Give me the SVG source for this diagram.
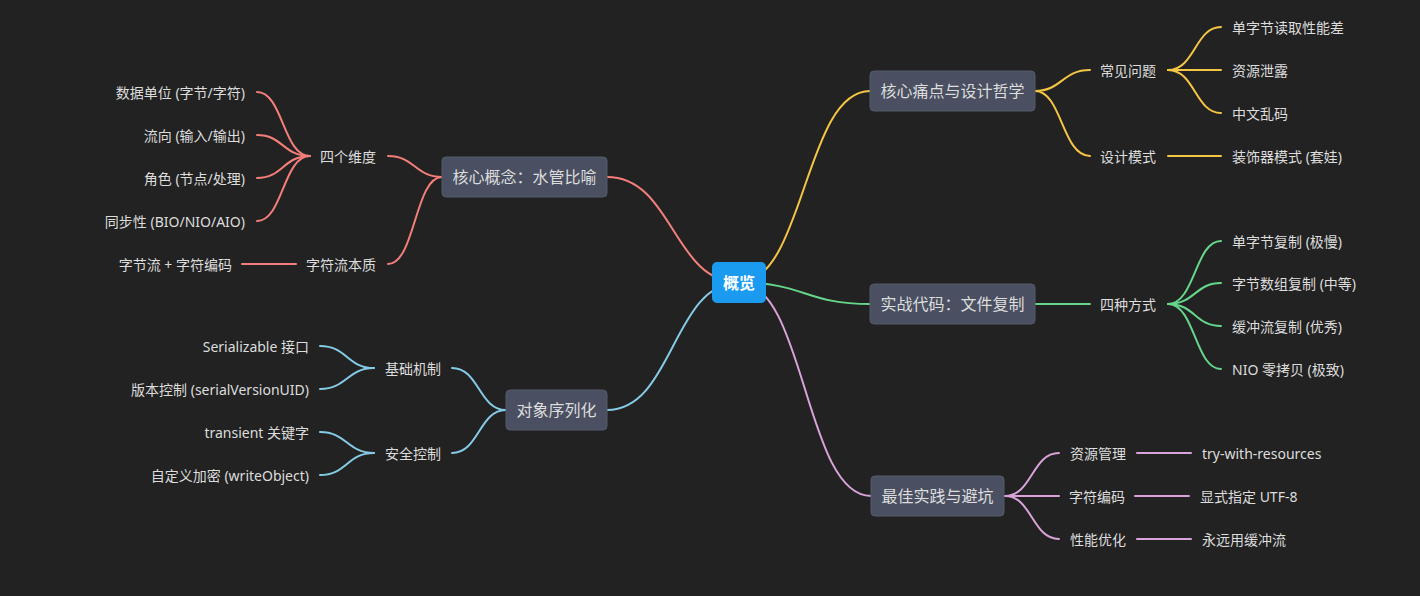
<svg xmlns="http://www.w3.org/2000/svg" width="1420" height="596" viewBox="0 0 1420 596">
<style>
text{font-family:"Noto Sans","Noto Sans CJK SC",sans-serif;fill:#dddddd;dominant-baseline:central}
.l1{font-size:16px}
.l2{font-size:14px}
.r{text-anchor:end}
.box{fill:#4a5061;stroke:#535a6a;stroke-width:1}
.lk{fill:none;stroke-width:2;stroke-linecap:round}
.red{stroke:#f47f7a}.yel{stroke:#f5c544}.grn{stroke:#66d68b}.pur{stroke:#d9a3d9}.blu{stroke:#86cbe6}
</style>
<rect width="1420" height="596" fill="#222222"/>
<g id="connectors">
<path class="lk yel" d="M739 282.5 C804.5 282.5 804.5 91 870 91"/>
<path class="lk grn" d="M739 282.5 C804.5 282.5 804.5 304 870 304"/>
<path class="lk pur" d="M739 282.5 C805 282.5 805 496 871 496"/>
<path class="lk red" d="M739 282.5 C673 282.5 673 177 607 177"/>
<path class="lk blu" d="M739 282.5 C673 282.5 673 410 607 410"/>
<path class="lk yel" d="M1035 91 C1062 91 1062 70 1090 70"/>
<path class="lk yel" d="M1035 91 C1062 91 1062 156 1090 156"/>
<path class="lk yel" d="M1168 70 C1195 70 1195 27 1221 27"/>
<path class="lk yel" d="M1168 70 L1221 70"/>
<path class="lk yel" d="M1168 70 C1195 70 1195 113 1221 113"/>
<path class="lk yel" d="M1168 156 L1221 156"/>
<path class="lk grn" d="M1035 304 L1090 304"/>
<path class="lk grn" d="M1168 304 C1195 304 1195 241 1221 241"/>
<path class="lk grn" d="M1168 304 C1195 304 1195 283 1221 283"/>
<path class="lk grn" d="M1168 304 C1195 304 1195 326 1221 326"/>
<path class="lk grn" d="M1168 304 C1195 304 1195 369 1221 369"/>
<path class="lk pur" d="M1005 496 C1032 496 1032 453 1059 453"/>
<path class="lk pur" d="M1005 496 L1059 496"/>
<path class="lk pur" d="M1005 496 C1032 496 1032 539 1059 539"/>
<path class="lk pur" d="M1137 453 L1191 453"/>
<path class="lk pur" d="M1135 496 L1189 496"/>
<path class="lk pur" d="M1137 539 L1191 539"/>
<path class="lk red" d="M442 177 C415 177 415 156 388 156"/>
<path class="lk red" d="M442 177 C415 177 415 264 388 264"/>
<path class="lk red" d="M310 156 C283 156 283 92 257 92"/>
<path class="lk red" d="M310 156 C283 156 283 135 257 135"/>
<path class="lk red" d="M310 156 C283 156 283 178 257 178"/>
<path class="lk red" d="M310 156 C283 156 283 221 257 221"/>
<path class="lk red" d="M296 264 L242 264"/>
<path class="lk blu" d="M506 410 C479 410 479 368 452 368"/>
<path class="lk blu" d="M506 410 C479 410 479 453 452 453"/>
<path class="lk blu" d="M374 368 C347 368 347 346 320 346"/>
<path class="lk blu" d="M374 368 C347 368 347 389 320 389"/>
<path class="lk blu" d="M374 453 C347 453 347 432 320 432"/>
<path class="lk blu" d="M374 453 C347 453 347 475 320 475"/>
</g>
<g id="root">
<rect x="712" y="262" width="54" height="41" rx="5" fill="#1a9bf0"/>
<text x="739" y="283" style="font-size:16px;font-weight:bold;fill:#ffffff;text-anchor:middle">概览</text>
</g>
<g id="n-pain">
<rect class="box" x="870" y="71" width="165" height="40" rx="4"/>
<text class="l1" x="952.5" y="91" text-anchor="middle">核心痛点与设计哲学</text>
</g>
<g id="n-code">
<rect class="box" x="870" y="284" width="165" height="40" rx="4"/>
<text class="l1" x="952.5" y="304" text-anchor="middle">实战代码：文件复制</text>
</g>
<g id="n-best">
<rect class="box" x="871" y="476" width="133" height="40" rx="4"/>
<text class="l1" x="937.5" y="496" text-anchor="middle">最佳实践与避坑</text>
</g>
<g id="n-concept">
<rect class="box" x="442" y="157" width="165" height="40" rx="4"/>
<text class="l1" x="524.5" y="177" text-anchor="middle">核心概念：水管比喻</text>
</g>
<g id="n-serial">
<rect class="box" x="506" y="390" width="101" height="40" rx="4"/>
<text class="l1" x="556.5" y="410" text-anchor="middle">对象序列化</text>
</g>
<g id="n-common"><text class="l2" x="1100" y="70">常见问题</text></g>
<g id="n-c1"><text class="l2" x="1232" y="27">单字节读取性能差</text></g>
<g id="n-c2"><text class="l2" x="1232" y="70">资源泄露</text></g>
<g id="n-c3"><text class="l2" x="1232" y="113">中文乱码</text></g>
<g id="n-design"><text class="l2" x="1100" y="156">设计模式</text></g>
<g id="n-d1"><text class="l2" x="1232" y="156">装饰器模式 (套娃)</text></g>
<g id="n-four"><text class="l2" x="1100" y="304">四种方式</text></g>
<g id="n-f1"><text class="l2" x="1232" y="241">单字节复制 (极慢)</text></g>
<g id="n-f2"><text class="l2" x="1232" y="283">字节数组复制 (中等)</text></g>
<g id="n-f3"><text class="l2" x="1232" y="326">缓冲流复制 (优秀)</text></g>
<g id="n-f4"><text class="l2" x="1232" y="369">NIO 零拷贝 (极致)</text></g>
<g id="n-res"><text class="l2" x="1070" y="453">资源管理</text></g>
<g id="n-res1"><text class="l2" x="1202" y="453">try-with-resources</text></g>
<g id="n-enc"><text class="l2" x="1069" y="496">字符编码</text></g>
<g id="n-enc1"><text class="l2" x="1200" y="496">显式指定 UTF-8</text></g>
<g id="n-perf"><text class="l2" x="1070" y="539">性能优化</text></g>
<g id="n-perf1"><text class="l2" x="1202" y="539">永远用缓冲流</text></g>
<g id="n-dims"><text class="l2" x="320" y="156">四个维度</text></g>
<g id="n-dim1"><text class="l2 r" x="245" y="92">数据单位 (字节/字符)</text></g>
<g id="n-dim2"><text class="l2 r" x="245" y="135">流向 (输入/输出)</text></g>
<g id="n-dim3"><text class="l2 r" x="245" y="178">角色 (节点/处理)</text></g>
<g id="n-dim4"><text class="l2 r" x="245" y="221">同步性 (BIO/NIO/AIO)</text></g>
<g id="n-essence"><text class="l2" x="306" y="264">字符流本质</text></g>
<g id="n-ess1"><text class="l2 r" x="232" y="264">字节流 + 字符编码</text></g>
<g id="n-basic"><text class="l2" x="385" y="368">基础机制</text></g>
<g id="n-b1"><text class="l2 r" x="309" y="346">Serializable 接口</text></g>
<g id="n-b2"><text class="l2 r" x="309" y="389">版本控制 (serialVersionUID)</text></g>
<g id="n-sec"><text class="l2" x="385" y="453">安全控制</text></g>
<g id="n-s1"><text class="l2 r" x="309" y="432">transient 关键字</text></g>
<g id="n-s2"><text class="l2 r" x="309" y="475">自定义加密 (writeObject)</text></g>
</svg>
